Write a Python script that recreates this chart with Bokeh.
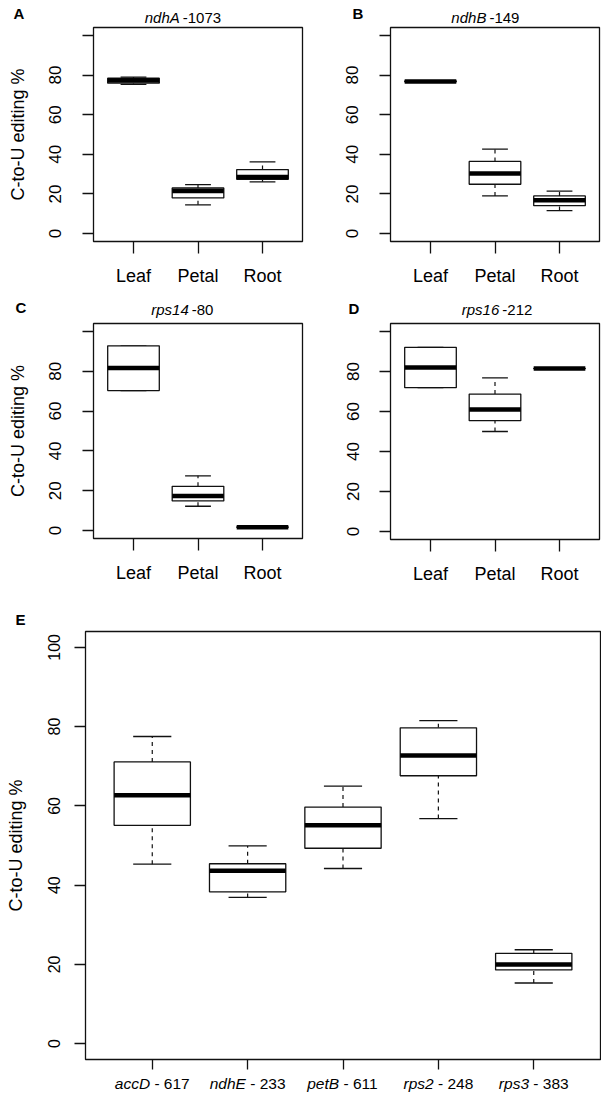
from bokeh.plotting import figure
from bokeh.models import ColumnDataSource, Range1d, FixedTicker
from bokeh.layouts import column, row
from bokeh.core.properties import value
from bokeh.embed import file_html
from bokeh.resources import INLINE

# ---------------- data ----------------
tissues = ["Leaf", "Petal", "Root"]

# panel A: ndhA-1073
a_lo = [75.3, 14.5, 26.1]
a_q1 = [75.9, 18.0, 27.4]
a_med = [77.2, 21.5, 28.6]
a_q3 = [78.4, 23.0, 32.3]
a_hi = [79.0, 24.7, 36.2]

# panel B: ndhB-149
b_lo = [76.5, 19.0, 11.6]
b_q1 = [76.6, 24.9, 14.1]
b_med = [76.8, 30.3, 16.8]
b_q3 = [77.0, 36.4, 19.0]
b_hi = [77.1, 42.6, 21.4]

# panel C: rps14-80
c_lo = [70.3, 12.2, 1.5]
c_q1 = [70.3, 14.9, 1.6]
c_med = [81.6, 17.3, 1.7]
c_q3 = [92.8, 22.2, 1.8]
c_hi = [92.8, 27.5, 1.9]

# panel D: rps16-212
d_lo = [71.9, 50.0, 81.3]
d_q1 = [71.9, 55.4, 81.4]
d_med = [82.0, 61.0, 81.5]
d_q3 = [92.1, 68.7, 81.6]
d_hi = [92.1, 76.8, 81.7]

# panel E
e_genes = ["accD", "ndhE", "petB", "rps2", "rps3"]
e_sites = ["- 617", "- 233", "- 611", "- 248", "- 383"]
e_lo = [45.3, 36.9, 44.2, 56.8, 15.3]
e_q1 = [55.1, 38.3, 49.3, 67.6, 18.6]
e_med = [62.7, 43.6, 55.1, 72.7, 20.0]
e_q3 = [71.1, 45.4, 59.7, 79.7, 22.8]
e_hi = [77.5, 49.9, 65.0, 81.5, 23.7]

panel_titles = [("ndhA", "-1073"), ("ndhB", "-149"), ("rps14", "-80"), ("rps16", "-212")]
panel_letters = ["A", "B", "C", "D", "E"]
y_ticks = [0, 20, 40, 60, 80, 100]

# ---------------- style ----------------
FONT = "Liberation Sans"
INK = "#111111"
YLO, YHI = -4, 104
SX = (0.38, 3.62)       # small panel x range
EX = (0.3, 5.7)         # panel E x range
FW = 209                # small frame width

# Arial / Liberation Sans advance widths (per em)
ADV = {"a": .556, "c": .5, "D": .722, "n": .556, "d": .556, "h": .556, "E": .667,
       "p": .556, "e": .556, "t": .278, "B": .667, "r": .333, "s": .5, "-": .333,
       " ": .278}


def text_w(s, size):
    return sum(ADV.get(ch, .556) for ch in s) * size


def make_fig(fw, fh, left, right, top, bottom, xr):
    p = figure(frame_width=fw, frame_height=fh, output_backend="svg",
               toolbar_location=None, title=None,
               x_range=Range1d(*xr), y_range=Range1d(YLO, YHI),
               min_border_left=left, min_border_right=right,
               min_border_top=top, min_border_bottom=bottom)
    p.xgrid.visible = False
    p.ygrid.visible = False
    p.outline_line_color = INK
    p.outline_line_width = 1.3
    p.outline_line_alpha = 1.0
    for ax in (p.xaxis[0], p.yaxis[0]):
        ax.axis_line_color = None
        ax.major_tick_line_color = INK
        ax.major_tick_line_width = 1.3
        ax.major_tick_in = 0
        ax.major_tick_out = 11
        ax.minor_tick_line_color = None
        ax.major_label_text_font = FONT
        ax.major_label_text_color = "black"
        ax.axis_label_text_font = FONT
        ax.axis_label_text_font_style = "normal"
        ax.axis_label_text_color = "black"
    p.yaxis.ticker = FixedTicker(ticks=y_ticks)
    p.yaxis.major_label_orientation = "vertical"
    return p


def strip(width, height, x_range=None, left=0, right=0):
    s = figure(frame_width=width, frame_height=height, output_backend="svg",
               toolbar_location=None, title=None,
               x_range=x_range if x_range is not None else Range1d(0, width),
               y_range=Range1d(height, 0),
               x_axis_type=None, y_axis_type=None,
               min_border_left=left, min_border_right=right,
               min_border_top=0, min_border_bottom=0)
    s.outline_line_color = None
    return s


def draw_boxes(p, xs, lo, q1, med, q3, hi):
    src = ColumnDataSource(dict(
        x=xs, lo=lo, q1=q1, med=med, q3=q3, hi=hi,
        xl=[x - 0.4 for x in xs], xr=[x + 0.4 for x in xs],
        cl=[x - 0.2 for x in xs], cr=[x + 0.2 for x in xs]))
    p.segment(x0="x", y0="q3", x1="x", y1="hi", source=src,
              line_color=INK, line_width=1.2, line_dash="4 4")
    p.segment(x0="x", y0="lo", x1="x", y1="q1", source=src,
              line_color=INK, line_width=1.2, line_dash="4 4")
    p.segment(x0="cl", y0="hi", x1="cr", y1="hi", source=src,
              line_color=INK, line_width=1.3)
    p.segment(x0="cl", y0="lo", x1="cr", y1="lo", source=src,
              line_color=INK, line_width=1.3)
    p.vbar(x="x", width=0.8, bottom="q1", top="q3", source=src,
           fill_color="white", line_color=INK, line_width=1.3)
    p.segment(x0="xl", y0="med", x1="xr", y1="med", source=src,
              line_color="black", line_width=4.5)


def small_panel(data, fh, left, right, top, bottom, ylabel):
    xs = [1, 2, 3]
    p = make_fig(FW, fh, left, right, top, bottom, SX)
    draw_boxes(p, xs, *data)
    p.xaxis.ticker = FixedTicker(ticks=xs)
    p.xaxis.major_label_overrides = {x: t for x, t in zip(xs, tissues)}
    p.xaxis.major_label_text_font_size = "18px"
    p.xaxis.major_label_standoff = 12
    p.xaxis.major_tick_out = 12
    p.yaxis.major_label_overrides = {100: ""}
    p.yaxis.major_label_text_font_size = "17px"
    p.yaxis.major_label_standoff = 21
    if ylabel:
        p.yaxis.axis_label = "C-to-U editing %"
        p.yaxis.axis_label_text_font_size = "18px"
        p.yaxis.axis_label_standoff = 19
    return p


# borders (px)
L1, R1, L2, R2 = 93, 6, 82, 2
W1 = L1 + FW + R1
ROWW = W1 + L2 + FW + R2

pA = small_panel((a_lo, a_q1, a_med, a_q3, a_hi), 214, L1, R1, 2, 59, True)
pB = small_panel((b_lo, b_q1, b_med, b_q3, b_hi), 214, L2, R2, 2, 59, False)
pC = small_panel((c_lo, c_q1, c_med, c_q3, c_hi), 215, L1, R1, 2, 62, True)
pD = small_panel((d_lo, d_q1, d_med, d_q3, d_hi), 216, L2, R2, 2, 61, False)


def data_to_row_px(panel_idx, xdata):
    left = L1 if panel_idx == 0 else W1 + L2
    return left + (xdata - SX[0]) * FW / (SX[1] - SX[0])


def title_strip(height, titles, split_x, mid_y, letters, letter_x, letter_y):
    s = strip(ROWW, height)
    xs = [data_to_row_px(i, sx) for i, sx in enumerate(split_x)]
    s.text(x=xs, y=mid_y, text=[t[0] for t in titles],
           text_font=value(FONT), text_font_style="italic",
           text_font_size="15px", text_align="right",
           text_baseline="middle", x_offset=-1.5, text_color="black")
    s.text(x=xs, y=mid_y, text=[t[1] for t in titles],
           text_font=value(FONT), text_font_size="15px", text_align="left",
           text_baseline="middle", x_offset=1.5, text_color="black")
    s.text(x=letter_x, y=letter_y, text=letters, text_font=value(FONT),
           text_font_style="bold", text_font_size="15px", text_align="left",
           text_baseline="middle", text_color="black")
    return s


s1 = title_strip(25, panel_titles[0:2], [1.74, 1.89], [17, 17],
                 panel_letters[0:2], [13, 352], [13, 13])
s2 = title_strip(21, panel_titles[2:4], [1.88, 2.09], [9, 9],
                 panel_letters[2:4], [15, 348], [7, 8])

# ---------------- panel E ----------------
ex = list(range(1, len(e_genes) + 1))
EL, ER, EW = 85, 1, 515
pE = make_fig(EW, 428, EL, ER, 2, 14, EX)
draw_boxes(pE, ex, e_lo, e_q1, e_med, e_q3, e_hi)
pE.xaxis.ticker = FixedTicker(ticks=ex)
pE.xaxis.major_label_overrides = {x: "" for x in ex}
pE.xaxis.major_label_text_font_size = "1px"
pE.xaxis.major_label_standoff = 0
pE.xaxis.major_tick_out = 10
pE.yaxis.major_label_text_font_size = "16px"
pE.yaxis.major_label_standoff = 14
pE.yaxis.axis_label = "C-to-U editing %"
pE.yaxis.axis_label_text_font_size = "18px"
pE.yaxis.axis_label_standoff = 20

sE_top = strip(EL + EW + ER, 29)
sE_top.text(x=[15], y=[19], text=panel_letters[4:5], text_font=value(FONT),
            text_font_style="bold", text_font_size="15px", text_align="left",
            text_baseline="middle", text_color="black")

LAB = 15.5
gene_off, site_off = [], []
for g, s in zip(e_genes, e_sites):
    wg, ws, sp = text_w(g, LAB), text_w(s, LAB), text_w(" ", LAB)
    total = wg + sp + ws
    gene_off.append(-total / 2 + wg)
    site_off.append(-total / 2 + wg + sp)
lsrc = ColumnDataSource(dict(x=ex, y=[10] * len(ex), gene=e_genes, site=e_sites,
                             go=gene_off, so=site_off))
sE_bot = strip(EW, 24, x_range=pE.x_range, left=EL, right=ER)
sE_bot.text(x="x", y="y", text="gene", source=lsrc, x_offset="go",
            text_font=value(FONT), text_font_style="italic",
            text_font_size=f"{LAB}px", text_align="right",
            text_baseline="middle", text_color="black")
sE_bot.text(x="x", y="y", text="site", source=lsrc, x_offset="so",
            text_font=value(FONT), text_font_size=f"{LAB}px",
            text_align="left", text_baseline="middle", text_color="black")

# wrap every figure in its own row so the column does not align their frames
layout = column(row(s1), row(pA, pB), row(s2), row(pC, pD),
                row(sE_top), row(pE), row(sE_bot))
open("out.html", "w").write(file_html(layout, INLINE))
